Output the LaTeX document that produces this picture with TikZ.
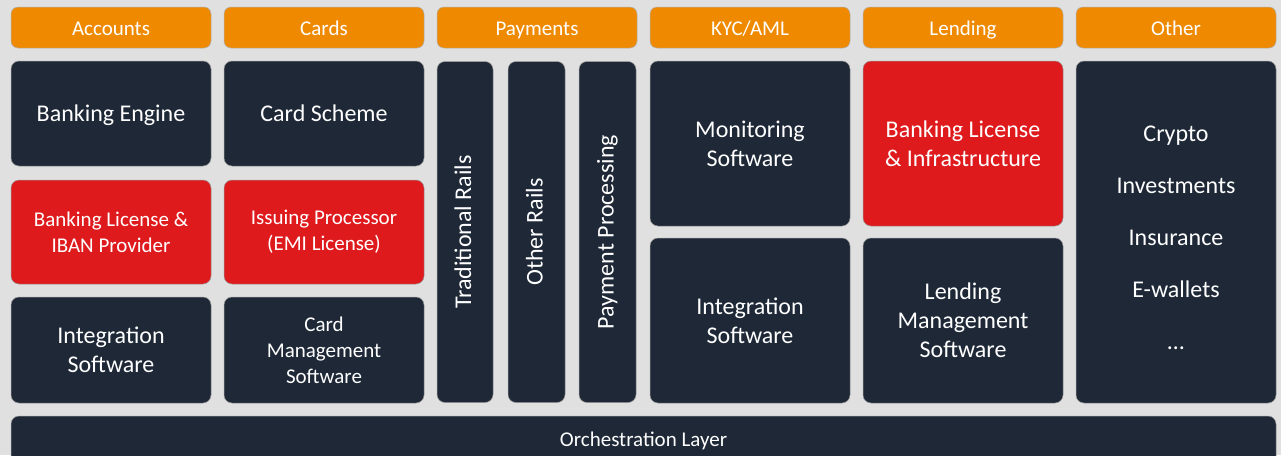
\documentclass[tikz,border=0pt]{standalone}
\usepackage{fontspec}
\setmainfont{Carlito}
\definecolor{navyfill}{HTML}{1E2837}
\definecolor{licfill}{HTML}{DF1A1D}
\definecolor{headfill}{HTML}{EE8900}
\definecolor{pagebg}{HTML}{E0E0E0}
\begin{document}
\begin{tikzpicture}[x=1pt,y=-1pt,
  base/.style={rounded corners=8pt, text=white, align=center, inner sep=2pt,
               draw=black!40, line width=0.5pt},
  bigtxt/.style={font=\fontsize{24}{29}\selectfont},
  midtxt/.style={font=\fontsize{21}{26}\selectfont},
  head/.style={base, text height=19pt, text depth=4pt, rounded corners=7pt,
               fill=headfill, draw=black!30,
               minimum width=200pt, minimum height=41pt,
               font=\fontsize{21}{25}\selectfont},
  darkbox/.style={base, fill=navyfill},
  licbox/.style={base, fill=licfill},
  colbox/.style={darkbox, bigtxt, minimum width=200pt},
  railbox/.style={darkbox, bigtxt, rotate=90, text height=17pt, text depth=5pt,
                  minimum width=341pt, minimum height=57pt}
]
\useasboundingbox (0,0) rectangle (1281,455);
\clip (0,0) rectangle (1281,455);
\fill[pagebg] (0,0) rectangle (1281,455);

% category headers
\node[head] (hAcc) at (111,27.5) {Accounts};
\node[head] (hCard) at (324,27.5) {Cards};
\node[head] (hPay) at (537,27.5) {Payments};
\node[head] (hKyc) at (750,27.5) {KYC/AML};
\node[head] (hLend) at (963,27.5) {Lending};
\node[head] (hOth) at (1176,27.5) {Other};

% accounts
\node[colbox, text height=21pt, text depth=5pt, minimum height=105pt] (bankEng) at (111,113.5) {Banking Engine};
\node[colbox, licbox, midtxt, minimum height=104pt] (bankLic) at (111,232) {Banking License \&\\IBAN Provider};
\node[colbox, minimum height=106pt] (accInt) at (111,350) {Integration\\Software};

% cards
\node[colbox, text height=21pt, text depth=5pt, minimum height=105pt] (cardSch) at (324,113.5) {Card Scheme};
\node[colbox, licbox, midtxt, minimum height=104pt] (issProc) at (324,232) {Issuing Processor\\(EMI License)};
\node[colbox, midtxt, minimum height=106pt] (cardMgmt) at (324,350) {Card\\Management\\Software};

% payments
\node[railbox, minimum height=56pt] (tradRails) at (465,232) {Traditional Rails};
\node[railbox] (othRails) at (536.5,232) {Other Rails};
\node[railbox] (payProc) at (607.5,232) {Payment Processing};

% kyc / aml
\node[colbox, minimum height=165pt] (monSw) at (750,143.5) {Monitoring\\Software};
\node[colbox, minimum height=165pt] (kycInt) at (750,320.5) {Integration\\Software};

% lending
\node[colbox, licbox, minimum height=165pt] (lendLic) at (963,143.5) {Banking License\\\& Infrastructure};
\node[colbox, minimum height=165pt] (lendMgmt) at (963,320.5) {Lending\\Management\\Software};

% other
\node[colbox, minimum height=342pt] (other) at (1176,232)
  {\rule{0pt}{28pt}Crypto\\[23pt]Investments\\[23pt]Insurance\\[23pt]E-wallets\\[23pt]…};

% orchestration layer
\node[darkbox, minimum width=1265pt, minimum height=50pt,
      font=\fontsize{21}{25}\selectfont] (orch) at (643.5,441)
  {\raisebox{4pt}{Orchestration Layer}};
\end{tikzpicture}
\end{document}
